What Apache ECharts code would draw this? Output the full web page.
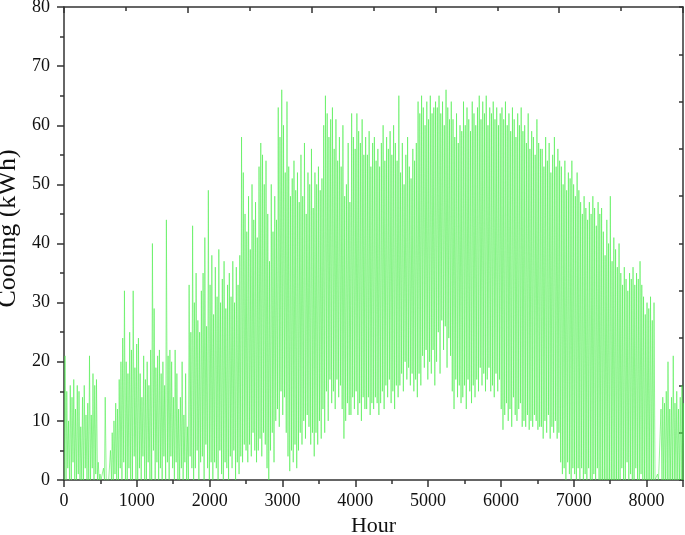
<!DOCTYPE html>
<html>
<head>
<meta charset="utf-8">
<script src="https://cdn.jsdelivr.net/npm/echarts@6/dist/echarts.min.js"></script>
<style>
html,body{margin:0;padding:0;background:#fff;}
#chart{width:685px;height:535px;}
</style>
</head>
<body>
<div id="chart"></div>
<script>
// Daily peak values (kWh), one per day of the year
var dailyPeaks = [
  21,15,10,16,14,17,12,16,15,9,14,16,11,13,
  21,
  11,18,16,17,
  3,1,0,2,14,
  0,0,
  5,8,10,13,12,17,20,
  24,32,20,18,25,22,32,19,23,
  24,18,14,21,17,20,16,22,40,29,19,
  21,22,18,20,16,44,
  21,22,20,14,22,18,12,
  14,20,11,18,9,
  33,25,43,
  30,35,27,25,32,
  35,41,26,49,33,38,
  28,36,31,39,30,34,37,29,33,
  35,31,37,30,36,33,38,
  58,52,45,
  42,48,39,50,44,47,41,
  53,57,55,50,54,
  45,37,50,42,48,44,
  63,58,66,60,52,64,
  53,48,51,54,49,52,47,
  55,48,57,45,52,50,56,46,
  52,50,53,49,51,
  60,65,62,58,61,63,
  56,61,54,58,53,60,48,50,57,47,
  62,58,56,62,59,57,61,55,58,
  55,59,53,57,58,54,56,53,
  57,60,54,58,56,59,55,60,57,54,65,
  52,57,50,55,58,53,51,56,54,57,
  64,62,65,63,60,64,61,65,62,63,64,
  63,65,62,64,60,66,63,61,64,
  61,58,62,57,60,59,
  64,60,63,61,59,64,62,60,
  63,65,61,64,62,65,60,63,
  62,64,61,63,60,62,
  63,61,64,60,62,59,63,61,58,62,60,63,59,
  60,57,62,56,59,58,55,61,57,56,
  56,53,58,54,57,52,55,58,53,56,54,
  53,50,54,49,52,51,54,50,48,52,49,
  47,45,48,46,44,47,45,48,46,43,47,45,46,
  42,38,44,40,48,37,41,39,36,40,
  35,33,36,34,32,35,34,36,33,35,34,37,33,
  31,28,30,29,31,27,30,
  0,1,0,
  12,14,13,15,20,12,14,21,13,15,12,14,16,13,
  14,12,15,13,11,14,12,15,13,12
];
// Daily trough values (kWh), one per day
var dailyTroughs = [
  0,0,2,0,0,3,0,0,1,0,0,0,2,0,
  0,
  0,2,0,1,
  0,0,0,0,0,
  0,0,
  0,0,0,1,0,0,2,
  0,3,0,0,2,0,0,4,0,
  0,2,0,4,0,0,3,0,0,5,0,
  3,0,2,0,4,0,
  3,0,4,2,0,3,0,
  0,2,0,3,0,
  0,4,2,
  0,2,5,0,3,
  4,0,6,2,0,3,
  0,3,2,0,5,1,0,3,2,
  0,4,2,5,0,3,1,
  4,3,6,
  5,3,6,4,8,5,3,
  5,7,4,8,6,
  2,0,5,8,3,10,
  12,9,15,11,14,8,
  4,1.5,5,3,6,2,5,
  8,6,10,7,11,9,6,8,
  4,8,6,10,7,
  12,8,15,10,17,13,
  15,12,17,14,16,12,7,10,13,11,
  11,14,12,15,11,13,10,14,12,
  12,14,11,13,12,14,13,11,
  13,15,12,16,14,17,13,15,12,16,14,
  16,18,15,20,17,19,16,18,15,17,
  14,18,16,21,19,22,17,20,18,22,16,
  20,25,18,27,22,26,19,24,21,
  15,12,17,14,16,13,
  14,16,12,17,15,13,16,14,
  17,15,19,16,18,15,17,19,
  15,16,14,18,15,17,
  12,8.5,11,13,10,12,9,14,11,10,12,13,9,
  10,9,11,8.5,10,9,11,10,8.5,9,
  9,7,10,8,11,7,9,8,10,7,8,
  3,1,2,0,3,1,0,2,1,0,2,
  0,2,0,1,0,2,0,0,1,0,2,0,0,
  0,0,0,0,0,0,0,0,0,0,
  0,2,0,0,3,0,1,0,0,2,0,0,1,
  0,0,0,0,0,0,0,
  0,0,0,
  0,0,0,0,0,0,0,0,0,0,0,0,0,0,
  0,0,0,0,0,0,0,0,0,0
];
var troughHour = 4;   // hour of day of the daily minimum
var peakHour = 14;    // hour of day of the daily maximum
var xTickValues = [0,1000,2000,3000,4000,5000,6000,7000,8000];
var yTickValues = [0,10,20,30,40,50,60,70,80];

var seriesData = [];
for (var d = 0; d < dailyPeaks.length; d++) {
  seriesData.push([d * 24 + troughHour, dailyTroughs[d]]);
  seriesData.push([d * 24 + peakHour, dailyPeaks[d]]);
}

var axisColor = '#333';
var fontFam = '"Liberation Serif", "Times New Roman", serif';
var chart = echarts.init(document.getElementById('chart'), null, {renderer: 'canvas'});
chart.setOption({
  animation: false,
  backgroundColor: '#fff',
  grid: {left: 64, right: 2, top: 7, bottom: 55, containLabel: false, outerBoundsMode: 'none'},
  xAxis: [{
    type: 'value', position: 'bottom',
    min: xTickValues[0], max: 8500, interval: 1000,
    name: 'Hour', nameLocation: 'middle', nameGap: 30,
    nameTextStyle: {fontFamily: fontFam, fontSize: 22, color: '#111'},
    axisLine: {show: true, onZero: false, lineStyle: {color: axisColor, width: 1.5}},
    axisTick: {show: true, inside: false, length: 7, lineStyle: {color: axisColor, width: 1.5}},
    minorTick: {show: true, splitNumber: 2, length: 4, lineStyle: {color: axisColor, width: 1.5}},
    axisLabel: {fontFamily: fontFam, fontSize: 18, color: '#111', margin: 12,
      formatter: function (v) { return xTickValues.indexOf(v) >= 0 ? String(v) : ''; }},
    splitLine: {show: false}
  }, {
    type: 'value', position: 'top',
    min: 0, max: 10, interval: 2,
    axisLine: {show: true, onZero: false, lineStyle: {color: axisColor, width: 1.5}},
    axisTick: {show: true, inside: true, length: 6, lineStyle: {color: axisColor, width: 1.5}},
    minorTick: {show: true, splitNumber: 2, length: 4, lineStyle: {color: axisColor, width: 1.5}},
    axisLabel: {show: false},
    splitLine: {show: false}
  }],
  yAxis: [{
    type: 'value', position: 'left',
    min: yTickValues[0], max: yTickValues[yTickValues.length - 1], interval: 10,
    name: 'Cooling (kWh)', nameLocation: 'middle', nameGap: 40,
    nameTextStyle: {fontFamily: fontFam, fontSize: 26, color: '#111', padding: [0, 0, 0, 30]},
    axisLine: {show: true, onZero: false, lineStyle: {color: axisColor, width: 1.5}},
    axisTick: {show: true, inside: false, length: 7, lineStyle: {color: axisColor, width: 1.5}},
    minorTick: {show: true, splitNumber: 2, length: 4, lineStyle: {color: axisColor, width: 1.5}},
    axisLabel: {fontFamily: fontFam, fontSize: 18, color: '#111', margin: 14},
    splitLine: {show: false}
  }, {
    type: 'value', position: 'right',
    min: 0, max: 10, interval: 1,
    axisLine: {show: true, onZero: false, lineStyle: {color: axisColor, width: 1.5}},
    axisTick: {show: true, inside: true, length: 4, lineStyle: {color: axisColor, width: 1.5}},
    axisLabel: {show: false},
    splitLine: {show: false}
  }],
  series: [{
    type: 'line',
    xAxisIndex: 0, yAxisIndex: 0,
    data: seriesData,
    showSymbol: false,
    symbol: 'none',
    sampling: null,
    clip: true,
    lineStyle: {color: '#4dee4d', width: 0.6},
    z: 1
  }]
});
</script>
</body>
</html>
